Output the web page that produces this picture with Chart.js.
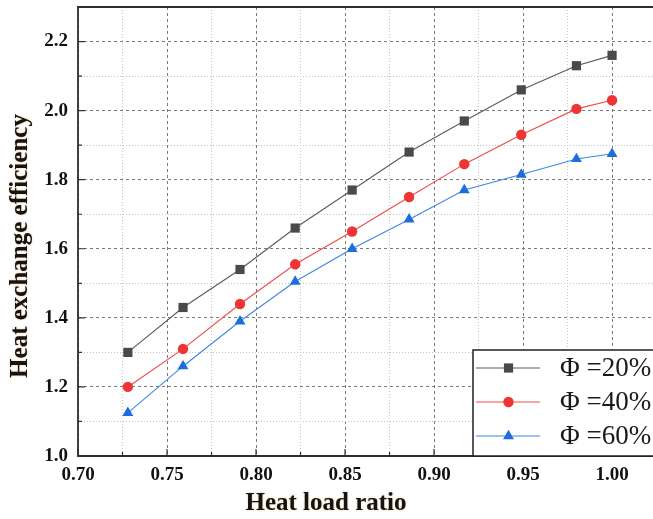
<!DOCTYPE html>
<html><head><meta charset="utf-8">
<script src="https://cdn.jsdelivr.net/npm/chart.js@4"></script>
<style>html,body{margin:0;padding:0;background:#fff;overflow:hidden}#wrap{width:653px;height:519px}</style>
</head><body><div id="wrap"><canvas id="c" width="653" height="519"></canvas></div>
<script>
const heatLoadRatio = [0.728, 0.759, 0.791, 0.822, 0.854, 0.886, 0.917, 0.949, 0.980, 1.000];
const eff20 = [1.30, 1.43, 1.54, 1.66, 1.77, 1.88, 1.97, 2.06, 2.13, 2.16];
const eff40 = [1.20, 1.31, 1.44, 1.555, 1.65, 1.75, 1.845, 1.93, 2.005, 2.03];
const eff60 = [1.125, 1.26, 1.39, 1.505, 1.60, 1.685, 1.77, 1.815, 1.86, 1.875];
const seriesLabels = ['Φ =20%', 'Φ =40%', 'Φ =60%'];
const xMajorTicks = [0.70, 0.75, 0.80, 0.85, 0.90, 0.95, 1.00];
const yMajorTicks = [1.0, 1.2, 1.4, 1.6, 1.8, 2.0, 2.2];
const xAxisTitle = 'Heat load ratio';
const yAxisTitle = 'Heat exchange efficiency';

const X_MIN = 0.70, X_MAX = 1.023, Y_MIN = 1.0, Y_MAX = 2.3;
function withMinor(major, maxV) {
  const out = [];
  for (let i = 0; i < major.length; i++) {
    out.push({ value: major[i], major: true });
    const step = i + 1 < major.length ? major[i + 1] - major[i] : major[i] - major[i - 1];
    const mid = +(major[i] + step / 2).toFixed(4);
    if (mid <= maxV + 1e-9) out.push({ value: mid, major: false });
  }
  return out;
}
const xTicksAll = withMinor(xMajorTicks, X_MAX);
const yTicksAll = withMinor(yMajorTicks, Y_MAX);
const isMajor = (arr, v) => arr.some(m => Math.abs(m - v) < 1e-6);

const styles = [
  { line: '#5a5a5a', fill: '#4a4a4a', shape: 'rect', r: 6.5 },
  { line: '#f04a4a', fill: '#ee3535', shape: 'circle', r: 5.2 },
  { line: '#3a88e6', fill: '#1c6ede', shape: 'triangle', r: 6.3 }
];
const seriesData = [eff20, eff40, eff60];

function drawMarker(ctx, shape, r, x, y, color) {
  ctx.save();
  ctx.fillStyle = color;
  ctx.beginPath();
  if (shape === 'rect') {
    const h = r * Math.SQRT1_2;
    ctx.rect(x - h, y - h, 2 * h, 2 * h);
  } else if (shape === 'circle') {
    ctx.arc(x, y, r, 0, Math.PI * 2);
  } else {
    ctx.moveTo(x, y - r);
    ctx.lineTo(x + r * Math.sin(Math.PI * 2 / 3), y + r * 0.5);
    ctx.lineTo(x - r * Math.sin(Math.PI * 2 / 3), y + r * 0.5);
    ctx.closePath();
  }
  ctx.fill();
  ctx.restore();
}

const decor = {
  id: 'decor',
  afterDatasetsDraw(chart) {
    const { ctx, chartArea: a, scales } = chart;
    ctx.save();
    ctx.strokeStyle = '#333';
    ctx.lineWidth = 1.2;
    ctx.beginPath();
    xTicksAll.forEach(t => {
      const px = scales.x.getPixelForValue(t.value);
      const len = t.major ? 7 : 4;
      ctx.moveTo(px, a.bottom); ctx.lineTo(px, a.bottom - len);
    });
    yTicksAll.forEach(t => {
      const py = scales.y.getPixelForValue(t.value);
      const len = t.major ? 7 : 4;
      ctx.moveTo(a.left, py); ctx.lineTo(a.left + len, py);
    });
    ctx.stroke();
    ctx.strokeStyle = '#2e2e2e';
    ctx.lineWidth = 1.8;
    ctx.beginPath();
    ctx.moveTo(a.right + 2, a.top); ctx.lineTo(a.left, a.top);
    ctx.lineTo(a.left, a.bottom); ctx.lineTo(a.right + 2, a.bottom);
    ctx.stroke();
    const lx = 473, ly = 350, lw = 200, lh = a.bottom - ly;
    ctx.fillStyle = '#fff';
    ctx.fillRect(lx, ly, lw, lh);
    ctx.strokeStyle = '#222';
    ctx.lineWidth = 1.5;
    ctx.strokeRect(lx, ly, lw, lh);
    const rowsY = [368, 402, 436];
    seriesLabels.forEach((lab, i) => {
      const s = styles[i], yy = rowsY[i];
      ctx.strokeStyle = s.line; ctx.lineWidth = 1;
      ctx.beginPath(); ctx.moveTo(476, yy); ctx.lineTo(540, yy); ctx.stroke();
      drawMarker(ctx, s.shape, s.r, 508.5, yy, s.fill);
      ctx.fillStyle = '#1a1a1a';
      ctx.font = '27px "Liberation Serif"';
      ctx.textBaseline = 'middle';
      ctx.textAlign = 'left';
      ctx.fillText(lab, 560, yy + 1);
    });
    ctx.fillStyle = '#141414';
    ctx.font = 'bold 25px "Liberation Serif"';
    ctx.textAlign = 'center';
    ctx.textBaseline = 'middle';
    ctx.shadowColor = 'rgba(220,140,40,0.55)';
    ctx.shadowBlur = 2;
    ctx.fillText(xAxisTitle, 326, 504);
    ctx.save();
    ctx.translate(21, 246);
    ctx.rotate(-Math.PI / 2);
    ctx.fillText(yAxisTitle, 0, 0);
    ctx.restore();
    ctx.restore();
  }
};

const tickFont = { family: 'Liberation Serif', size: 19, weight: 'bold' };

new Chart(document.getElementById('c'), {
  type: 'line',
  data: {
    datasets: seriesData.map((arr, i) => ({
      label: seriesLabels[i],
      data: heatLoadRatio.map((x, j) => ({ x, y: arr[j] })),
      borderColor: styles[i].line,
      backgroundColor: styles[i].fill,
      pointBackgroundColor: styles[i].fill,
      pointBorderColor: styles[i].fill,
      pointBorderWidth: 0,
      pointStyle: styles[i].shape,
      pointRadius: styles[i].r,
      borderWidth: 1.1,
      tension: 0
    }))
  },
  options: {
    responsive: false,
    animation: false,
    devicePixelRatio: 1,
    layout: { autoPadding: false, padding: { top: 7, right: 0, left: 0, bottom: 0 } },
    plugins: { legend: { display: false }, tooltip: { enabled: false } },
    scales: {
      x: {
        type: 'linear', min: X_MIN, max: X_MAX,
        afterBuildTicks: s => { s.ticks = xTicksAll.map(t => ({ value: t.value })); },
        afterFit: s => { s.height = 63; s.paddingLeft = 0; s.paddingRight = 0; },
        ticks: {
          autoSkip: false, maxRotation: 0, padding: 8, color: '#111', font: tickFont,
          callback: v => isMajor(xMajorTicks, v) ? v.toFixed(2) : ''
        },
        grid: {
          drawTicks: false, lineWidth: 1,
          color: c => (c.tick && isMajor(xMajorTicks, c.tick.value)) ? '#7a7a7a' : '#c4c4c4'
        },
        border: {
          display: false,
          dash: c => c.tick ? (isMajor(xMajorTicks, c.tick.value) ? [3, 3] : [1, 2]) : []
        }
      },
      y: {
        type: 'linear', min: Y_MIN, max: Y_MAX,
        afterBuildTicks: s => { s.ticks = yTicksAll.map(t => ({ value: t.value })); },
        afterFit: s => { s.width = 78; s.paddingTop = 0; s.paddingBottom = 0; },
        ticks: {
          autoSkip: false, padding: 10, color: '#111', font: tickFont,
          callback: v => isMajor(yMajorTicks, v) ? v.toFixed(1) : ''
        },
        grid: {
          drawTicks: false, lineWidth: 1,
          color: c => (c.tick && isMajor(yMajorTicks, c.tick.value)) ? '#7a7a7a' : '#c4c4c4'
        },
        border: {
          display: false,
          dash: c => c.tick ? (isMajor(yMajorTicks, c.tick.value) ? [3, 3] : [1, 2]) : []
        }
      }
    }
  },
  plugins: [decor]
});
</script></body></html>
